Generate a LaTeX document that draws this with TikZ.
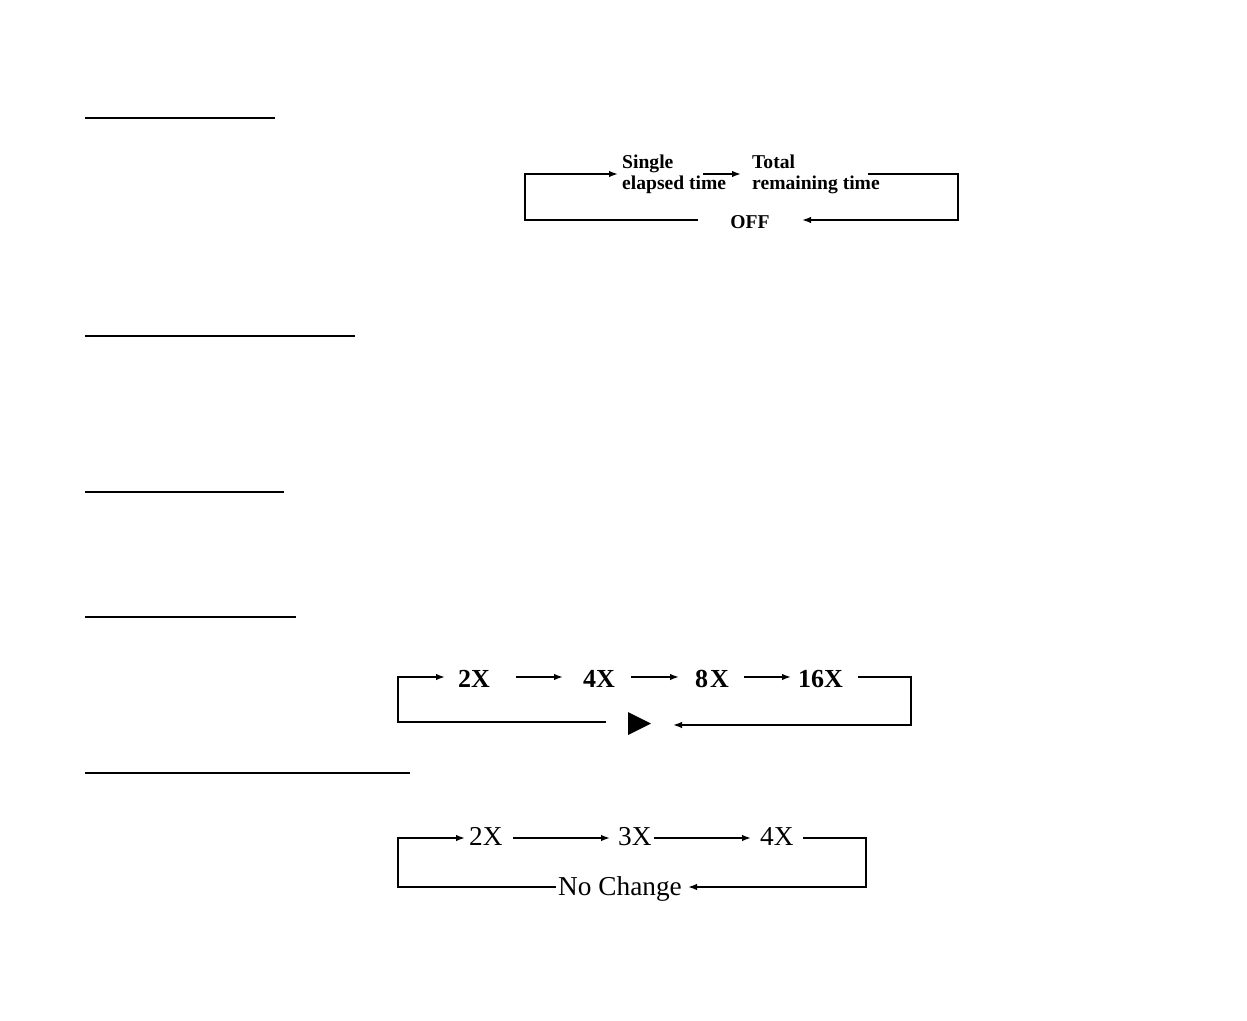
\documentclass[tikz,border=0pt]{standalone}
\usepackage{fontspec}
\setmainfont{Liberation Serif}
\usetikzlibrary{arrows.meta}
\begin{document}
\begin{tikzpicture}[x=1pt,y=-1pt,
  ln/.style={line width=1.7pt,black},
  arr/.style={ln,-{Latex[length=9pt,width=6.5pt]}},
  uline/.style={line width=2.2pt,black},
  ta/.style={inner sep=0pt,anchor=base west,font=\fontsize{19.6}{22}\selectfont\bfseries},
  tb/.style={inner sep=0pt,anchor=base west,font=\fontsize{26}{30}\selectfont\bfseries},
  tc/.style={inner sep=0pt,anchor=base west,font=\fontsize{27.3}{30}\selectfont}]
\useasboundingbox[fill=white] (0,0) rectangle (1247,1020);

% heading underlines
\coordinate (h1a) at (85,118); \coordinate (h1b) at (275,118);
\coordinate (h2a) at (85,336); \coordinate (h2b) at (355,336);
\coordinate (h3a) at (85,492); \coordinate (h3b) at (284,492);
\coordinate (h4a) at (85,617); \coordinate (h4b) at (296,617);
\coordinate (h5a) at (85,773); \coordinate (h5b) at (410,773);
\draw[uline] (h1a) -- (h1b);
\draw[uline] (h2a) -- (h2b);
\draw[uline] (h3a) -- (h3b);
\draw[uline] (h4a) -- (h4b);
\draw[uline] (h5a) -- (h5b);

% diagram 1
\node[ta] (s1) at (622,168) {Single};
\node[ta] (s2) at (622,189) {elapsed time};
\node[ta] (t1) at (752,168) {Total};
\node[ta] (t2) at (752,189) {remaining time};
\node[ta,anchor=base] (off) at (750,228) {OFF};
\coordinate (a1) at (698,220); \coordinate (a2) at (525,220);
\coordinate (a3) at (525,174); \coordinate (a4) at (618,174);
\coordinate (a5) at (703,174); \coordinate (a6) at (741,174);
\coordinate (a7) at (868,174); \coordinate (a8) at (958,174);
\coordinate (a9) at (958,220); \coordinate (a10) at (802,220);
\draw[arr] (a1) -- (a2) -- (a3) -- (a4);
\draw[arr] (a5) -- (a6);
\draw[arr] (a7) -- (a8) -- (a9) -- (a10);

% diagram 2
\node[tb] (x2) at (458,687) {2X};
\node[tb] (x4) at (583,687) {4X};
\node[tb] (x8) at (695,687) {8\kern2pt X};
\node[tb] (x16) at (798,687) {16X};
\coordinate (b1) at (606,722); \coordinate (b2) at (398,722);
\coordinate (b3) at (398,677); \coordinate (b4) at (445,677);
\coordinate (b5) at (516,677); \coordinate (b6) at (563,677);
\coordinate (b7) at (631,677); \coordinate (b8) at (679,677);
\coordinate (b9) at (744,677); \coordinate (b10) at (791,677);
\coordinate (b11) at (858,677); \coordinate (b12) at (911,677);
\coordinate (b13) at (911,725); \coordinate (b14) at (673,725);
\draw[arr] (b1) -- (b2) -- (b3) -- (b4);
\draw[arr] (b5) -- (b6);
\draw[arr] (b7) -- (b8);
\draw[arr] (b9) -- (b10);
\draw[arr] (b11) -- (b12) -- (b13) -- (b14);
\coordinate (play) at (628,712);
\fill (play) -- ++(0,23) -- ++(23,-11.5) -- cycle;

% diagram 3
\node[tc] (y2) at (469,845) {2X};
\node[tc] (y3) at (618,845) {3X};
\node[tc] (y4) at (760,845) {4X};
\node[tc] (nc) at (558,895) {No Change};
\coordinate (c1) at (556,887); \coordinate (c2) at (398,887);
\coordinate (c3) at (398,838); \coordinate (c4) at (465,838);
\coordinate (c5) at (513,838); \coordinate (c6) at (610,838);
\coordinate (c7) at (654,838); \coordinate (c8) at (751,838);
\coordinate (c9) at (803,838); \coordinate (c10) at (866,838);
\coordinate (c11) at (866,887); \coordinate (c12) at (688,887);
\draw[arr] (c1) -- (c2) -- (c3) -- (c4);
\draw[arr] (c5) -- (c6);
\draw[arr] (c7) -- (c8);
\draw[arr] (c9) -- (c10) -- (c11) -- (c12);
\end{tikzpicture}
\end{document}
